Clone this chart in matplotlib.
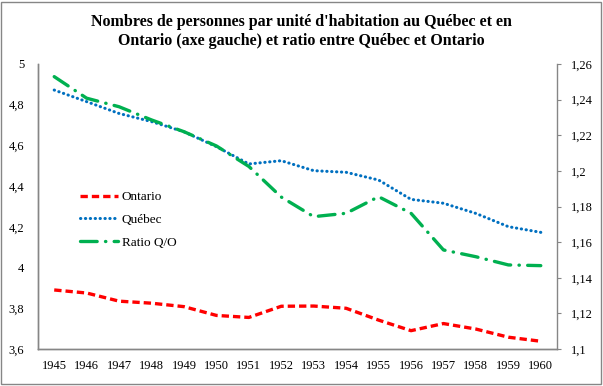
import matplotlib
matplotlib.use("Agg")
import matplotlib.pyplot as plt
from matplotlib.patches import Rectangle

years = ["1945", "1946", "1947", "1948", "1949", "1950", "1951", "1952",
         "1953", "1954", "1955", "1956", "1957", "1958", "1959", "1960"]
ontario = [3.89, 3.875, 3.835, 3.825, 3.808, 3.765, 3.755, 3.81,
           3.811, 3.80, 3.742, 3.69, 3.725, 3.698, 3.658, 3.638]
quebec = [4.872, 4.815, 4.757, 4.717, 4.667, 4.594, 4.509, 4.525,
          4.476, 4.468, 4.43, 4.335, 4.316, 4.266, 4.201, 4.173]
ratio = [1.2529, 1.2408, 1.236, 1.2286, 1.222, 1.214, 1.2025, 1.1853,
         1.1743, 1.1762, 1.1855, 1.1762, 1.1556, 1.1518, 1.1472, 1.1468]
left_ticks = [3.6, 3.8, 4.0, 4.2, 4.4, 4.6, 4.8, 5.0]
left_labels = ["3,6", "3,8", "4", "4,2", "4,4", "4,6", "4,8", "5"]
right_ticks = [1.10, 1.12, 1.14, 1.16, 1.18, 1.20, 1.22, 1.24, 1.26]
right_labels = ["1,1", "1,12", "1,14", "1,16", "1,18", "1,2", "1,22", "1,24", "1,26"]
title = "Nombres de personnes par unité d'habitation au Québec et en\nOntario (axe gauche) et ratio entre Québec et Ontario"

plt.rcParams['font.family'] = ['Liberation Serif', 'DejaVu Serif']

fig = plt.figure(figsize=(6.03, 3.86), dpi=100)
fig.patches.append(Rectangle((0.002, 0.004), 0.994, 0.992, transform=fig.transFigure,
                             fill=False, edgecolor='#868686', linewidth=1.0))
ax = fig.add_axes([38/603, 37/386, 519/603, 285/386])
ax2 = ax.twinx()

x = list(range(len(years)))
l1, = ax.plot(x, ontario, color='#FF0000', linewidth=2.4, linestyle=(0, (2.2, 1.2)),
              label='Ontario')
l2, = ax.plot(x, quebec, color='#0070C0', linewidth=2.2, linestyle=(0, (0.1, 1.5)),
              dash_capstyle='round', label='Québec')
l3, = ax2.plot(x, ratio, color='#00B050', linewidth=2.4, linestyle=(0, (5, 2.5, 0.1, 2.5)),
               dash_capstyle='round', label='Ratio Q/O')

ax.set_xlim(-0.5, len(years) - 0.5)
ax.set_ylim(3.6, 5.0)
ax2.set_ylim(1.10, 1.26)
ax.set_xticks(x)
ax.set_xticklabels(years, fontsize=9)
ax.set_yticks(left_ticks)
ax.set_yticklabels(left_labels, fontsize=9)
ax2.set_yticks(right_ticks)
ax2.set_yticklabels(right_labels, fontsize=9)

ax.tick_params(axis='x', length=0, pad=8)
ax.tick_params(axis='y', length=0, pad=10)
ax2.tick_params(axis='y', length=3, pad=7, color='#868686', direction='out')

for a in (ax, ax2):
    a.spines['top'].set_visible(False)
    for s in ('left', 'right', 'bottom'):
        a.spines[s].set_color('#868686')
        a.spines[s].set_linewidth(1.0)
ax.spines['right'].set_visible(False)

fig.text(0.5, 0.965, title, ha='center', va='top', fontsize=11.5, fontweight='bold',
         linespacing=1.3)

leg = ax2.legend(handles=[l1, l2, l3], loc='upper left',
                 bbox_to_anchor=(80/603, 1 - 191/386), bbox_transform=fig.transFigure,
                 frameon=False, fontsize=9.5, handlelength=2.9, handletextpad=0.25,
                 labelspacing=0.8, borderpad=0, borderaxespad=0)

fig.savefig("out.png", dpi=100)
